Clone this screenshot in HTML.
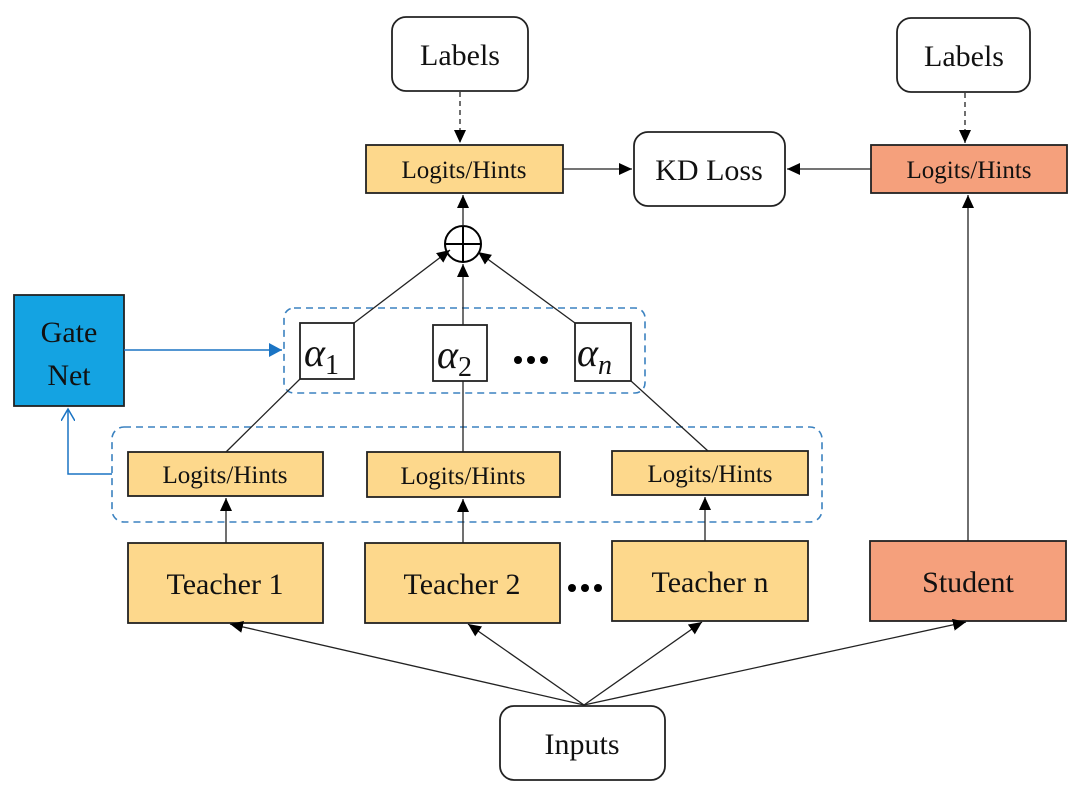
<!DOCTYPE html>
<html><head><meta charset="utf-8"><style>
html,body{margin:0;padding:0;background:#fff}
svg text{font-family:"Liberation Serif",serif;fill:#111}
</style></head><body>
<svg width="1080" height="792" viewBox="0 0 1080 792" xmlns="http://www.w3.org/2000/svg">
<defs>
<marker id="a" markerWidth="14" markerHeight="14" refX="13" refY="6" orient="auto" markerUnits="userSpaceOnUse"><path d="M0,0 L13,6 L0,12 z" fill="#000"/></marker>
<marker id="b" markerWidth="14" markerHeight="14" refX="13" refY="7" orient="auto" markerUnits="userSpaceOnUse"><path d="M0,0 L13,7 L0,14 z" fill="#1a74c4"/></marker>
<marker id="c" markerWidth="14" markerHeight="14" refX="12" refY="7" orient="auto" markerUnits="userSpaceOnUse"><path d="M0,0 L12,7 L0,14" fill="none" stroke="#1a74c4" stroke-width="1.5"/></marker>
</defs>
<g stroke="#222" stroke-width="1.8">
<rect x="392" y="17" width="136" height="74" rx="14" fill="#fff"/>
<rect x="897" y="18" width="133" height="74" rx="14" fill="#fff"/>
<rect x="366" y="145" width="197" height="48" fill="#fdd88c"/>
<rect x="634" y="132" width="151" height="74" rx="14" fill="#fff"/>
<rect x="871" y="145" width="196" height="48" fill="#f5a07c"/>
<rect x="14" y="295" width="110" height="111" fill="#14a3e2"/>
<rect x="300" y="323" width="54" height="56" fill="#fff"/>
<rect x="433" y="325" width="54" height="56" fill="#fff"/>
<rect x="575" y="323" width="56" height="58" fill="#fff"/>
<rect x="128" y="452" width="195" height="44" fill="#fdd88c"/>
<rect x="367" y="452" width="193" height="45" fill="#fdd88c"/>
<rect x="612" y="451" width="196" height="44" fill="#fdd88c"/>
<rect x="128" y="543" width="195" height="80" fill="#fdd88c"/>
<rect x="365" y="543" width="195" height="80" fill="#fdd88c"/>
<rect x="612" y="541" width="196" height="80" fill="#fdd88c"/>
<rect x="870" y="541" width="196" height="80" fill="#f5a07c"/>
<rect x="500" y="706" width="165" height="74" rx="14" fill="#fff"/>
<circle cx="463" cy="244" r="18" fill="#fff" stroke="#000" stroke-width="2"/>
<line x1="445" y1="244" x2="481" y2="244" stroke="#000" stroke-width="2"/>
<line x1="463" y1="226" x2="463" y2="262" stroke="#000" stroke-width="2"/>
</g>
<g fill="none" stroke="#3b82c0" stroke-width="1.6" stroke-dasharray="7,5">
<rect x="284" y="308" width="361" height="85" rx="10"/>
<rect x="112" y="427" width="710" height="95" rx="12"/>
</g>
<g stroke="#222" stroke-width="1.3" fill="none">
<line x1="460" y1="92" x2="460" y2="143" stroke-dasharray="5,4" marker-end="url(#a)"/>
<line x1="965" y1="93" x2="965" y2="143" stroke-dasharray="5,4" marker-end="url(#a)"/>
<line x1="563" y1="169" x2="632" y2="169" marker-end="url(#a)"/>
<line x1="871" y1="169" x2="787" y2="169" marker-end="url(#a)"/>
<line x1="463" y1="226" x2="463" y2="195" marker-end="url(#a)"/>
<line x1="968" y1="541" x2="968" y2="195" marker-end="url(#a)"/>
<line x1="354" y1="323" x2="450" y2="250" marker-end="url(#a)"/>
<line x1="463" y1="325" x2="463" y2="264" marker-end="url(#a)"/>
<line x1="575" y1="323" x2="478" y2="252" marker-end="url(#a)"/>
<line x1="226" y1="452" x2="300" y2="379"/>
<line x1="463" y1="452" x2="463" y2="381"/>
<line x1="708" y1="451" x2="631" y2="381"/>
<line x1="226" y1="543" x2="226" y2="498" marker-end="url(#a)"/>
<line x1="463" y1="543" x2="463" y2="499" marker-end="url(#a)"/>
<line x1="705" y1="541" x2="705" y2="497" marker-end="url(#a)"/>
<line x1="584" y1="705" x2="230" y2="624" marker-end="url(#a)"/>
<line x1="584" y1="705" x2="468" y2="624" marker-end="url(#a)"/>
<line x1="584" y1="705" x2="702" y2="622" marker-end="url(#a)"/>
<line x1="584" y1="705" x2="966" y2="622" marker-end="url(#a)"/>
</g>
<g stroke="#1a74c4" stroke-width="1.5" fill="none">
<line x1="124" y1="350" x2="282" y2="350" marker-end="url(#b)"/>
<polyline points="112,474 68,474 68,409" marker-end="url(#c)"/>
</g>
<g font-size="30" text-anchor="middle">
<text x="460" y="65">Labels</text>
<text x="964" y="66">Labels</text>
<text x="709" y="180">KD Loss</text>
<text x="69" y="342">Gate</text>
<text x="69" y="385">Net</text>
<text x="225" y="594">Teacher 1</text>
<text x="462" y="594">Teacher 2</text>
<text x="710" y="592">Teacher n</text>
<text x="968" y="592">Student</text>
<text x="582" y="754">Inputs</text>
</g>
<g font-size="25" text-anchor="middle">
<text x="464" y="178">Logits/Hints</text>
<text x="969" y="178">Logits/Hints</text>
<text x="225" y="483">Logits/Hints</text>
<text x="463" y="484">Logits/Hints</text>
<text x="710" y="482">Logits/Hints</text>
</g>
<g font-size="40" font-style="italic">
<text x="304" y="366">α<tspan font-size="28" font-style="normal" dy="8">1</tspan></text>
<text x="437" y="368">α<tspan font-size="28" font-style="normal" dy="8">2</tspan></text>
<text x="577" y="366">α<tspan font-size="28" dy="8">n</tspan></text>
</g>
<g fill="#000">
<circle cx="518" cy="360" r="4"/><circle cx="531" cy="360" r="4"/><circle cx="544" cy="360" r="4"/>
<circle cx="572" cy="588" r="4"/><circle cx="585" cy="588" r="4"/><circle cx="598" cy="588" r="4"/>
</g>
</svg>
</body></html>
